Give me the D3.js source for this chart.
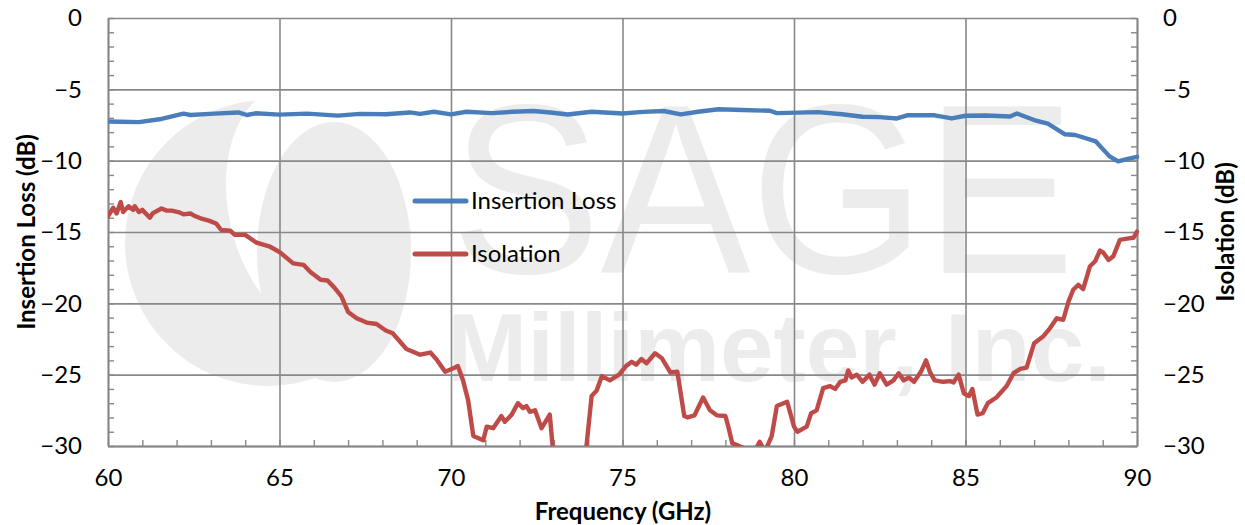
<!DOCTYPE html>
<html>
<head>
<meta charset="utf-8">
<script src="https://cdn.jsdelivr.net/npm/d3@7"></script>
<style>
  body { margin: 0; background: #fff; }
  text { font-family: Lato, "Open Sans", sans-serif; fill: #000; }
</style>
</head>
<body>
<svg id="chart" width="1245" height="525"></svg>
<script>
// frequency (GHz) and dB values
var ilFreq = [60.0, 60.35, 60.9, 61.5, 62.2, 62.4, 63.1, 63.8, 64.05, 64.3, 65.0, 65.8, 66.7, 67.35, 68.1, 68.8, 69.1, 69.5,
  70.0, 70.45, 71.2, 71.8, 72.4, 72.9, 73.4, 74.1, 75.0, 75.6, 76.2, 76.7, 77.2, 77.8, 78.5, 79.3, 79.5, 80.7, 81.4,
  82.0, 82.5, 83.0, 83.3, 84.1, 84.6, 85.0, 85.6, 86.3, 86.5, 87.0, 87.4, 87.9, 88.2, 88.8, 89.2, 89.45, 89.7, 90.0];
var ilVal = [-7.25, -7.27, -7.3, -7.1, -6.7, -6.8, -6.7, -6.62, -6.8, -6.68, -6.77, -6.7, -6.84, -6.72, -6.75, -6.62, -6.72, -6.57,
  -6.76, -6.57, -6.67, -6.57, -6.52, -6.62, -6.76, -6.57, -6.69, -6.58, -6.52, -6.76, -6.57, -6.4, -6.45, -6.5, -6.67, -6.6, -6.75,
  -6.92, -6.95, -7.04, -6.82, -6.82, -7.04, -6.85, -6.83, -6.9, -6.69, -7.15, -7.4, -8.15, -8.2, -8.65, -9.7, -10.05, -9.9, -9.73];

var isoFreq = [60.0, 60.15, 60.25, 60.37, 60.44, 60.6, 60.73, 60.78, 60.9, 61.0, 61.22, 61.3, 61.56, 61.71, 61.86, 62.05, 62.2, 62.4,
  62.55, 62.7, 62.94, 63.15, 63.3, 63.56, 63.7, 64.0, 64.33, 64.7, 65.0, 65.4, 65.7, 65.9, 66.2, 66.4, 66.6, 66.8, 67.0, 67.25,
  67.54, 67.83, 68.1, 68.3, 68.7, 69.1, 69.4, 69.6, 69.83, 70.07, 70.2, 70.35, 70.5, 70.65, 70.94, 71.04, 71.23, 71.47, 71.57,
  71.77, 71.95, 72.1, 72.2, 72.3, 72.45, 72.64, 72.88, 72.98, 73.2, 73.5, 73.85, 73.95, 74.1, 74.25, 74.4, 74.63, 74.9, 75.1,
  75.27, 75.4, 75.55, 75.7, 75.95, 76.15, 76.4, 76.6, 76.8, 76.9, 77.1, 77.35, 77.55, 77.75, 78.0, 78.07, 78.2, 78.5, 78.8,
  79.0, 79.15, 79.35, 79.5, 79.8, 80.0, 80.1, 80.37, 80.5, 80.66, 80.85, 81.05, 81.2, 81.35, 81.5, 81.58, 81.68, 81.83, 82.0,
  82.2, 82.35, 82.5, 82.7, 82.9, 83.05, 83.2, 83.35, 83.5, 83.7, 83.85, 83.96, 84.1, 84.35, 84.55, 84.65, 84.8, 84.95, 85.1,
  85.2, 85.35, 85.5, 85.65, 85.9, 86.2, 86.4, 86.6, 86.78, 87.0, 87.27, 87.46, 87.66, 87.85, 88.0, 88.14, 88.29, 88.43, 88.63,
  88.78, 88.92, 89.02, 89.17, 89.31, 89.5, 89.75, 89.9, 90.0];
var isoVal = [-13.9, -13.3, -13.7, -12.9, -13.6, -13.2, -13.45, -13.2, -13.6, -13.45, -14.0, -13.7, -13.35, -13.5, -13.5, -13.6, -13.76, -13.7,
  -13.9, -14.04, -14.2, -14.4, -14.86, -14.9, -15.2, -15.2, -15.75, -16.0, -16.4, -17.2, -17.3, -17.8, -18.35, -18.4, -18.9, -19.5, -20.6, -21.05,
  -21.35, -21.45, -21.9, -22.1, -23.2, -23.6, -23.45, -24.0, -24.8, -24.55, -24.4, -25.4, -26.8, -29.3, -29.6, -28.65, -28.75, -27.9, -28.3,
  -27.8, -27.0, -27.35, -27.2, -27.6, -27.5, -28.75, -27.8, -30.5, -31.8, -32.0, -31.0, -30.0, -26.5, -26.1, -25.1, -25.4, -25.0, -24.4,
  -24.1, -24.3, -23.9, -24.2, -23.5, -23.85, -24.85, -24.8, -27.9, -28.0, -27.85, -26.6, -27.5, -27.85, -27.9, -28.5, -29.8, -30.1, -30.6,
  -29.7, -30.4, -29.3, -27.2, -26.9, -28.64, -29.0, -28.64, -27.7, -27.5, -25.95, -25.8, -26.0, -25.5, -25.4, -24.7, -25.2, -25.0, -25.5,
  -25.0, -25.7, -24.9, -25.7, -25.4, -24.9, -25.4, -25.2, -25.5, -24.8, -24.0, -24.8, -25.4, -25.5, -25.45, -25.55, -25.0, -26.3, -26.5,
  -26.0, -27.8, -27.7, -27.0, -26.6, -25.8, -24.9, -24.6, -24.5, -22.8, -22.3, -21.75, -21.05, -21.15, -19.9, -19.05, -18.7, -19.0, -17.4,
  -17.05, -16.3, -16.45, -16.96, -16.7, -15.55, -15.45, -15.4, -14.97];

var xMajor = [60, 65, 70, 75, 80, 85, 90];
var yMajor = [0, -5, -10, -15, -20, -25, -30];
var seriesNames = ["Insertion Loss", "Isolation"];
var seriesColors = ["#4a7ebb", "#be4b48"];

(function() {
  var svg = d3.select("#chart");
  var pLeft = 108, pRight = 1137, pTop = 18, pBottom = 446;
  var x = d3.scaleLinear().domain([60, 90]).range([pLeft, pRight]);
  var y = d3.scaleLinear().domain([-30, 0]).range([pBottom, pTop]);

  // faint company watermark behind the grid
  var wm = svg.append("g").attr("class", "watermark");
  var wmGray = "#ececec";
  wm.append("circle").attr("cx", 268).attr("cy", 243).attr("r", 143).attr("fill", wmGray);
  wm.append("ellipse").attr("cx", 318).attr("cy", 212).attr("rx", 88).attr("ry", 132)
    .attr("transform", "rotate(-16,318,212)").attr("fill", "#fff");
  wm.append("ellipse").attr("cx", 334).attr("cy", 252).attr("rx", 77).attr("ry", 130).attr("fill", wmGray);
  wm.append("text").attr("x", 451).attr("y", 273).attr("textLength", 624).attr("lengthAdjust", "spacingAndGlyphs")
    .style("font-family", "'Liberation Sans', Arial, sans-serif").style("font-size", "242px").style("fill", wmGray).text("SAGE");
  wm.append("text").attr("x", 447).attr("y", 381).attr("textLength", 664).attr("lengthAdjust", "spacingAndGlyphs")
    .style("font-family", "'Liberation Sans', Arial, sans-serif").style("font-weight", "bold")
    .style("font-size", "97px").style("fill", wmGray).text("Millimeter, Inc.");

  var gridColor = "#888888";

  // major gridlines
  svg.append("g").attr("transform", "translate(0," + pBottom + ")")
    .call(d3.axisBottom(x).tickValues(xMajor).tickSize(-(pBottom - pTop)).tickFormat(""))
    .call(function(g) { g.select(".domain").remove(); g.selectAll("line").attr("stroke", gridColor).attr("stroke-width", 1.6); });
  svg.append("g").attr("transform", "translate(" + pLeft + ",0)")
    .call(d3.axisLeft(y).tickValues(yMajor).tickSize(-(pRight - pLeft)).tickFormat(""))
    .call(function(g) { g.select(".domain").remove(); g.selectAll("line").attr("stroke", gridColor).attr("stroke-width", 1.6); });

  // minor inward ticks
  function styleAxis(g) {
    g.select(".domain").attr("stroke", gridColor).attr("stroke-width", 1.8);
    g.selectAll("line").attr("stroke", gridColor).attr("stroke-width", 1.4);
  }
  svg.append("g").attr("transform", "translate(0," + pBottom + ")")
    .call(d3.axisBottom(x).tickValues(d3.range(60, 91, 1)).tickSize(-6).tickSizeOuter(0).tickFormat(""))
    .call(styleAxis);
  svg.append("g").attr("transform", "translate(" + pLeft + ",0)")
    .call(d3.axisLeft(y).tickValues(d3.range(-30, 1, 1)).tickSize(-6).tickSizeOuter(0).tickFormat(""))
    .call(styleAxis);
  svg.append("g").attr("transform", "translate(" + pRight + ",0)")
    .call(d3.axisRight(y).tickValues(d3.range(-30, 1, 1)).tickSize(-6).tickSizeOuter(0).tickFormat(""))
    .call(styleAxis);

  // tick labels
  function labelStyle(g) {
    g.select(".domain").remove();
    g.selectAll("text").style("font-family", "Lato, sans-serif").style("font-size", "24px").attr("fill", "#000");
  }
  svg.append("g").attr("transform", "translate(0," + pBottom + ")")
    .call(d3.axisBottom(x).tickValues(xMajor).tickSize(0).tickPadding(23).tickFormat(d3.format("d")))
    .call(labelStyle);
  svg.append("g").attr("transform", "translate(" + pLeft + ",0)")
    .call(d3.axisLeft(y).tickValues(yMajor).tickSize(0).tickPadding(26).tickFormat(d3.format("d")))
    .call(labelStyle);
  svg.append("g").attr("transform", "translate(" + pRight + ",0)")
    .call(d3.axisRight(y).tickValues(yMajor).tickSize(0).tickPadding(26).tickFormat(d3.format("d")))
    .call(labelStyle);

  // axis titles
  svg.append("text").attr("x", 623).attr("y", 520).attr("text-anchor", "middle")
    .style("font-size", "24px").style("font-weight", "bold").text("Frequency (GHz)");
  svg.append("text").attr("transform", "translate(35,232) rotate(-90)").attr("text-anchor", "middle")
    .style("font-size", "24px").style("font-weight", "bold").text("Insertion Loss (dB)");
  svg.append("text").attr("transform", "translate(1234,232) rotate(-90)").attr("text-anchor", "middle")
    .style("font-size", "24px").style("font-weight", "bold").text("Isolation (dB)");

  // data lines, clipped to the plot area
  svg.append("clipPath").attr("id", "plotclip").append("rect")
    .attr("x", pLeft).attr("y", pTop - 4).attr("width", pRight - pLeft + 4).attr("height", pBottom - pTop + 4);

  var line = d3.line().x(function(d) { return x(d[0]); }).y(function(d) { return y(d[1]); });
  var series = [d3.zip(ilFreq, ilVal), d3.zip(isoFreq, isoVal)];
  svg.append("g").attr("clip-path", "url(#plotclip)")
    .selectAll("path").data(series).enter().append("path")
    .attr("d", line)
    .attr("fill", "none")
    .attr("stroke", function(d, i) { return seriesColors[i]; })
    .attr("stroke-width", 4.4)
    .attr("stroke-linejoin", "round")
    .attr("stroke-linecap", "round");

  // legend
  var legend = svg.append("g").attr("transform", "translate(415,201)");
  var items = legend.selectAll("g").data(seriesNames).enter().append("g")
    .attr("transform", function(d, i) { return "translate(0," + (i * 53) + ")"; });
  items.append("line").attr("x1", 0).attr("x2", 51).attr("y1", 0).attr("y2", 0)
    .attr("stroke", function(d, i) { return seriesColors[i]; }).attr("stroke-width", 5).attr("stroke-linecap", "round");
  items.append("text").attr("x", 56).attr("y", 8).style("font-size", "24px").text(function(d) { return d; });
})();
</script>
</body>
</html>
